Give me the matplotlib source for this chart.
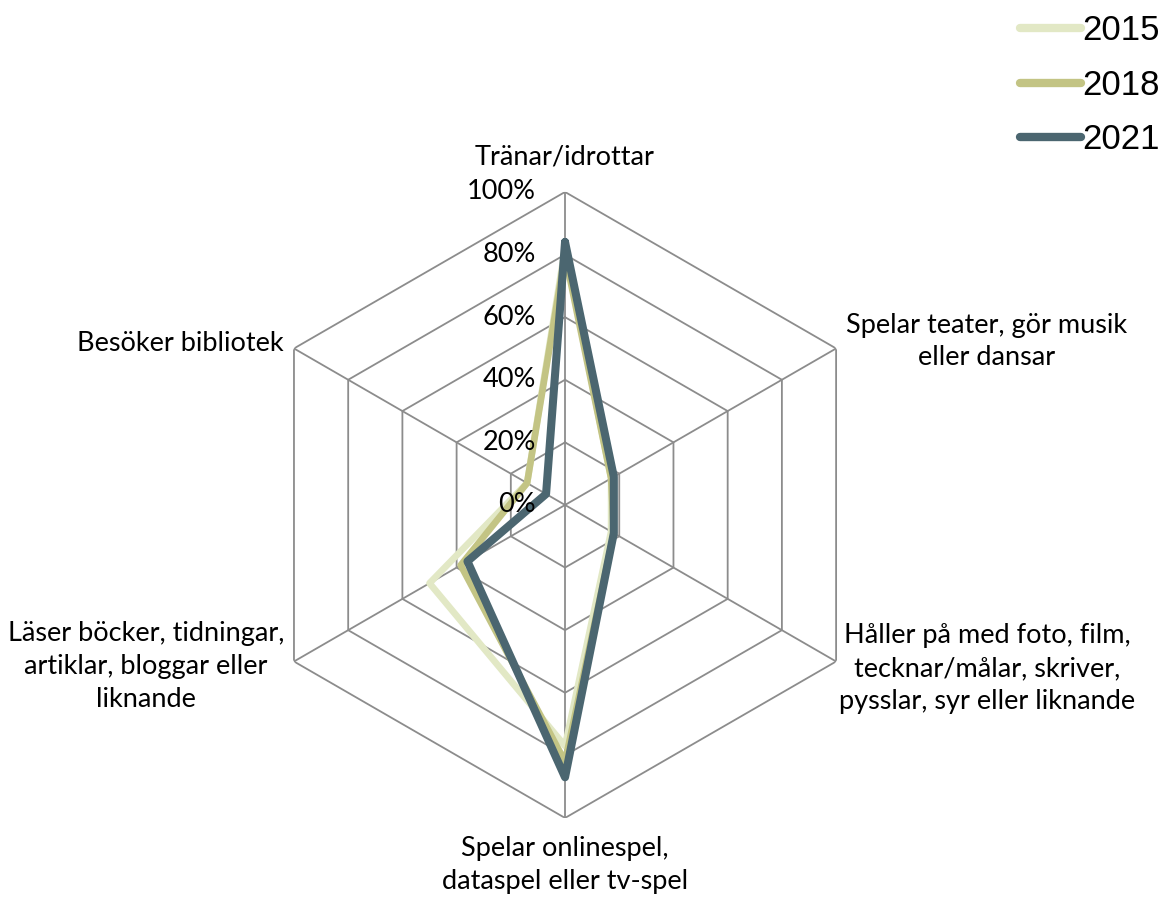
import numpy as np
import matplotlib
matplotlib.use("Agg")
import matplotlib.pyplot as plt
import matplotlib.transforms as mtransforms

categories = [
    "Tränar/idrottar",
    "Spelar teater, gör musik\neller dansar",
    "Håller på med foto, film,\ntecknar/målar, skriver,\npysslar, syr eller liknande",
    "Spelar onlinespel,\ndataspel eller tv-spel",
    "Läser böcker, tidningar,\nartiklar, bloggar eller\nliknande",
    "Besöker bibliotek",
]
years = ["2015", "2018", "2021"]
v2015 = [0.82, 0.17, 0.17, 0.77, 0.50, 0.14]
v2018 = [0.80, 0.17, 0.18, 0.82, 0.385, 0.14]
v2021 = [0.84, 0.18, 0.18, 0.87, 0.36, 0.07]
rticks = [0.0, 0.2, 0.4, 0.6, 0.8, 1.0]
rticklabels = ["0%", "20%", "40%", "60%", "80%", "100%"]

colors = ["#e2e8c5", "#c3c484", "#4b6670"]
widths = [4.8, 4.8, 5.8]

fig = plt.figure(figsize=(11.69, 8.97), dpi=100)
ax = fig.add_axes([0.2156, 0.0881, 0.5355, 0.6979], projection="polar")
ax.set_theta_offset(np.pi / 2)
ax.set_theta_direction(-1)
ax.set_ylim(0, 1.0)
ax.grid(False)
ax.spines["polar"].set_visible(False)
ax.set_xticks([])
ax.set_yticks([])
ax.patch.set_alpha(0)

n = len(categories)
theta = np.arange(n) * 2 * np.pi / n
theta_c = np.concatenate([theta, theta[:1]])

grid_color = "#8c8c8c"
for r in rticks[1:]:
    ax.plot(theta_c, [r] * (n + 1), color=grid_color, lw=1.3, zorder=1)
for t in theta:
    ax.plot([t, t], [0, 1.0], color=grid_color, lw=1.3, zorder=1)

font = "Lato"
fs = 19.5
# radial tick labels
off = mtransforms.offset_copy(ax.transData, fig=fig, x=-29, y=0, units="dots")
for r, lab in zip(rticks, rticklabels):
    ax.text(0, r, lab, transform=off, ha="right", va="center",
            fontsize=fs, family=font, color="black", zorder=5)

series = [v2015, v2018, v2021]
handles = []
for vals, c, w, y in zip(series, colors, widths, years):
    vv = list(vals) + [vals[0]]
    h, = ax.plot(theta_c, vv, color=c, lw=w, label=y, zorder=3,
                 solid_joinstyle="round", solid_capstyle="round")
    handles.append(h)

# category labels
lab_specs = [
    (0, 0, 22, "center", "bottom"),
    (1, 10, 7, "left", "center"),
    (2, 3, -7, "left", "center"),
    (3, 0, -18, "center", "top"),
    (4, -10, -5, "right", "center"),
    (5, -10, 5, "right", "center"),
]
for i, dx, dy, ha, va in lab_specs:
    tr = mtransforms.offset_copy(ax.transData, fig=fig, x=dx, y=dy, units="dots")
    ax.text(theta[i], 1.0, categories[i], transform=tr, ha=ha, va=va,
            multialignment="center", fontsize=fs, family=font,
            linespacing=1.38, zorder=5)

leg = fig.legend(handles=handles, labels=years, loc="upper right",
                 bbox_to_anchor=(1.019, 1.019), frameon=False,
                 prop={"family": "Liberation Sans", "size": 25},
                 handlelength=1.75, handletextpad=0.05, labelspacing=0.62)
for lh in leg.get_lines():
    lh.set_solid_capstyle("round")
    lh.set_linewidth(6)

fig.savefig("out.png", dpi=100)
